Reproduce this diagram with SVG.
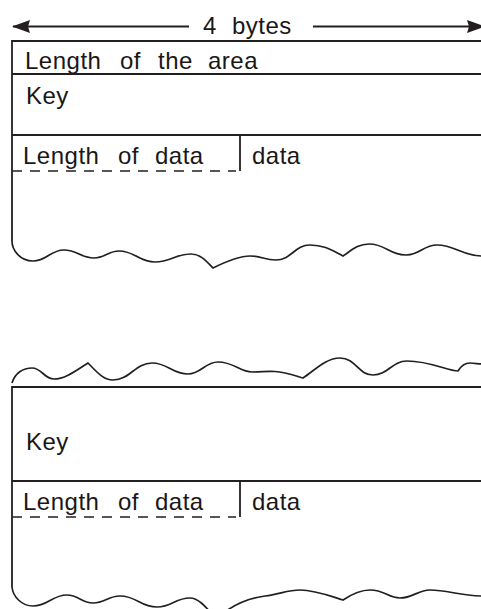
<svg xmlns="http://www.w3.org/2000/svg" width="481" height="609" viewBox="0 0 481 609">
<style>
.ln{stroke:#231f20;stroke-width:1.8;fill:none}
.dash{stroke:#231f20;stroke-width:1.5;fill:none;stroke-dasharray:10 8}
.wave{stroke:#231f20;stroke-width:1.7;fill:none;stroke-linejoin:miter}
.t{font-family:"Liberation Sans",Arial,Helvetica,sans-serif;font-size:24px;letter-spacing:0.5px;fill:#1a1718}
</style>
<defs>
<marker id="ah" viewBox="0 0 18 13" refX="17" refY="6.5" markerWidth="18" markerHeight="13" markerUnits="userSpaceOnUse" orient="auto-start-reverse">
<path d="M0,0 L18,6.5 L0,13 L2,6.5 Z" fill="#231f20"/>
</marker>
</defs>
<rect width="481" height="609" fill="#fff"/>
<g id="connectors">
<line class="ln" x1="13" y1="26.5" x2="189" y2="26.5" marker-start="url(#ah)"/>
<line class="ln" x1="313" y1="26.5" x2="484" y2="26.5" marker-end="url(#ah)"/>
<text class="t" y="33.5"><tspan x="203">4</tspan><tspan x="232">bytes</tspan></text>
</g>
<g id="area1">
<line class="ln" x1="12" y1="41" x2="481" y2="41"/>
<line class="ln" x1="12" y1="74" x2="481" y2="74"/>
<line class="ln" x1="12" y1="135" x2="481" y2="135"/>
<line class="ln" x1="12" y1="40.1" x2="12" y2="241"/>
<line class="ln" x1="240" y1="135" x2="240" y2="171"/>
<line class="dash" x1="12" y1="171" x2="236" y2="171"/>
<text class="t" y="68.5"><tspan x="25">Length</tspan><tspan x="120">of</tspan><tspan x="158">the</tspan><tspan x="208">area</tspan></text>
<text class="t" x="26" y="103.5">Key</text>
<text class="t" y="163.5"><tspan x="23">Length</tspan><tspan x="118">of</tspan><tspan x="155">data</tspan></text>
<text class="t" x="252" y="163.5">data</text>
<path class="wave" d="M12,241 C12,250 20,261 33,261 C47,261 50,250 64,250 C77.5,250 80.5,258 94,258 C105,258 108,251 119,251 C135,251 139,262 155,262 C171,262 175,254 191,254 C201,254 207,262 213,268 C225,262 238,256 250,256 C262,256 264,260 276,260 C291,260 295,245 310,245 C325,245 333,251 343,256 C352,250 358,244 369,244 C386,244 389,255 406,255 C420,255 423,245 437,245 C455,245 462,256 482,256"/>
</g>
<g id="area2">
<path class="wave" d="M12,383 C15,373 23,368 32,368 C42,368 44,379 54,379 C66,379 78,369 88,363 C96,371 103,380 113,380 C130,380 135,363 152,363 C168,363 172,374 188,374 C201,374 205,362 218,362 C234,362 240,372 252,372 C262,372 266,371 275,371.5 C286,372 296,376 303,378 C315,370 326,358 340,358 C356,358 358,375 373,375 C388,375 392,361 407,361 C430,361 448,371 458,371 C461,366 465,363 470,363 C475,363 478,364 482,364"/>
<line class="ln" x1="12" y1="387" x2="481" y2="387"/>
<line class="ln" x1="12" y1="481" x2="481" y2="481"/>
<line class="ln" x1="12" y1="386.1" x2="12" y2="587"/>
<line class="ln" x1="240" y1="481" x2="240" y2="517"/>
<line class="dash" x1="12" y1="517" x2="236" y2="517"/>
<text class="t" x="26" y="449.5">Key</text>
<text class="t" y="509.5"><tspan x="23">Length</tspan><tspan x="118">of</tspan><tspan x="155">data</tspan></text>
<text class="t" x="252" y="509.5">data</text>
<path class="wave" d="M12,587 C13,597 22,606 33,606 C48,606 52,595 67,595 C79,595 81,603 93,603 C105,603 108,596 120,596 C137,596 140,607 157,607 C172,607 175,598 190,598 C198,598 205,606 212,614"/>
<path class="wave" d="M222,614 C235,604 250,598 265,596 C280,594 288,590 300,590 C315,590 330,596 343,600 C352,594 360,590 370,590 C385,590 388,598 400,598 C413,598 418,590 430,590 C448,590 460,596 482,596"/>
</g>
</svg>
